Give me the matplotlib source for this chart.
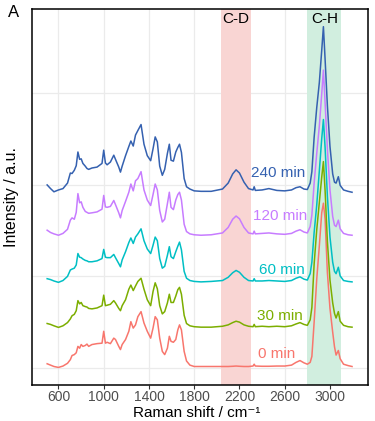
import numpy as np
import matplotlib.pyplot as plt

plt.rcParams['font.family'] = ['Liberation Sans', 'DejaVu Sans']

# Raman shift grid (cm-1)
shift = [500, 530, 560, 600, 640, 680, 705, 720, 740, 757, 772, 787, 801, 816, 837, 852, 867,
         896, 941, 985, 1000, 1015, 1030, 1059, 1089, 1104, 1133, 1148, 1163, 1193, 1222, 1240,
         1261, 1281, 1302, 1330, 1356, 1385, 1415, 1436, 1455, 1474, 1495, 1518, 1539, 1563,
         1580, 1595, 1616, 1637, 1655, 1670, 1687, 1711, 1732, 1762, 1800, 1860,
         1950, 2050, 2100, 2140, 2170, 2200, 2240, 2280, 2320, 2330, 2340, 2400, 2460, 2530,
         2600, 2660, 2700, 2735, 2770, 2800, 2825, 2840, 2860, 2883, 2906, 2927, 2942, 2957,
         2977, 3000, 3024, 3040, 3054, 3074, 3090, 3120, 3160, 3195]

int_0 = [0.09, 0.06, 0.03, 0.01, 0.04, 0.10, 0.18, 0.27, 0.29, 0.33, 0.47, 0.43, 0.51, 0.47, 0.49, 0.52, 0.47,
         0.51, 0.53, 0.54, 0.80, 0.54, 0.56, 0.53, 0.65, 0.62, 0.47, 0.40, 0.51, 0.62, 0.80, 1.01,
         0.87, 0.94, 1.12, 1.23, 0.98, 0.80, 0.65, 0.87, 1.12, 1.05, 0.65, 0.36, 0.29, 0.43,
         0.69, 0.58, 0.56, 0.62, 0.83, 0.94, 0.83, 0.36, 0.15, 0.06, 0.03, 0.03,
         0.03, 0.03, 0.03, 0.035, 0.04, 0.035, 0.03, 0.03, 0.04, 0.08, 0.04, 0.035, 0.035, 0.04,
         0.04, 0.06, 0.12, 0.16, 0.11, 0.08, 0.12, 0.25, 1.00, 1.94, 2.67, 3.39, 3.60, 3.25,
         2.09, 1.30, 0.78, 0.46, 0.28, 0.38, 0.20, 0.08, 0.05, 0.03]

int_30 = [0.10, 0.08, 0.05, 0.015, 0.05, 0.12, 0.20, 0.27, 0.30, 0.38, 0.60, 0.53, 0.56, 0.49, 0.47, 0.46, 0.43,
          0.42, 0.44, 0.49, 0.72, 0.49, 0.50, 0.52, 0.60, 0.55, 0.43, 0.38, 0.49, 0.62, 0.85, 0.94,
          0.82, 0.92, 1.02, 1.09, 0.85, 0.62, 0.49, 0.80, 0.99, 0.86, 0.49, 0.31, 0.36, 0.55,
          0.74, 0.56, 0.56, 0.70, 0.84, 0.89, 0.74, 0.28, 0.10, 0.05, 0.03, 0.02,
          0.02, 0.04, 0.07, 0.12, 0.15, 0.13, 0.07, 0.04, 0.03, 0.08, 0.03, 0.04, 0.03, 0.04,
          0.03, 0.05, 0.09, 0.12, 0.08, 0.06, 0.18, 0.45, 1.40, 2.15, 2.75, 3.30, 3.64, 3.00,
          1.90, 1.05, 0.55, 0.32, 0.22, 0.36, 0.15, 0.06, 0.03, 0.02]

int_60 = [0.09, 0.07, 0.04, 0.01, 0.05, 0.14, 0.28, 0.30, 0.32, 0.39, 0.64, 0.56, 0.55, 0.52, 0.49, 0.48, 0.46,
          0.46, 0.48, 0.53, 0.73, 0.56, 0.55, 0.55, 0.62, 0.55, 0.42, 0.35, 0.50, 0.68, 0.88, 0.98,
          0.86, 1.00, 1.07, 1.18, 0.92, 0.74, 0.64, 0.82, 1.00, 0.92, 0.53, 0.32, 0.36, 0.60,
          0.79, 0.57, 0.53, 0.68, 0.80, 0.89, 0.72, 0.25, 0.10, 0.05, 0.03, 0.02,
          0.03, 0.05, 0.12, 0.22, 0.27, 0.23, 0.12, 0.05, 0.04, 0.09, 0.04, 0.04, 0.05, 0.04,
          0.03, 0.05, 0.10, 0.13, 0.08, 0.06, 0.20, 0.45, 1.10, 1.70, 2.45, 3.15, 3.57, 2.95,
          1.90, 1.00, 0.45, 0.25, 0.20, 0.34, 0.15, 0.05, 0.03, 0.02]

int_120 = [0.12, 0.07, 0.04, 0.01, 0.05, 0.14, 0.34, 0.39, 0.36, 0.51, 0.92, 0.72, 0.74, 0.62, 0.53, 0.51, 0.49,
           0.50, 0.52, 0.58, 0.88, 0.63, 0.62, 0.64, 0.77, 0.68, 0.50, 0.39, 0.55, 0.75, 0.95, 1.13,
           0.98, 1.20, 1.25, 1.40, 1.00, 0.78, 0.66, 0.90, 1.13, 1.00, 0.55, 0.30, 0.36, 0.70,
           0.95, 0.62, 0.57, 0.78, 0.90, 0.95, 0.78, 0.25, 0.09, 0.04, 0.02, 0.01,
           0.02, 0.06, 0.18, 0.36, 0.43, 0.37, 0.18, 0.06, 0.04, 0.10, 0.04, 0.05, 0.06, 0.04,
           0.03, 0.05, 0.10, 0.13, 0.08, 0.06, 0.20, 0.45, 1.15, 1.80, 2.40, 3.10, 3.62, 2.90,
           1.90, 1.00, 0.42, 0.23, 0.20, 0.34, 0.15, 0.05, 0.02, 0.01]

int_240 = [0.16, 0.08, 0.01, 0.05, 0.08, 0.20, 0.42, 0.41, 0.48, 0.58, 0.88, 0.72, 0.73, 0.63, 0.57, 0.52, 0.50,
           0.53, 0.55, 0.63, 0.92, 0.64, 0.60, 0.66, 0.81, 0.72, 0.55, 0.44, 0.57, 0.80, 1.00, 1.12,
           1.01, 1.25, 1.35, 1.48, 1.05, 0.80, 0.69, 0.95, 1.21, 1.10, 0.57, 0.37, 0.50, 0.85,
           1.05, 0.70, 0.68, 0.88, 0.98, 1.05, 0.87, 0.30, 0.12, 0.07, 0.03, 0.02,
           0.02, 0.07, 0.20, 0.40, 0.49, 0.42, 0.22, 0.08, 0.05, 0.12, 0.04, 0.05, 0.08, 0.04,
           0.03, 0.05, 0.10, 0.12, 0.07, 0.06, 0.20, 0.45, 1.20, 1.85, 2.40, 3.10, 3.62, 2.90,
           1.90, 1.00, 0.40, 0.22, 0.20, 0.34, 0.15, 0.05, 0.02, 0.00]

times = ['0 min', '30 min', '60 min', '120 min', '240 min']
spectra = [int_0, int_30, int_60, int_120, int_240]
offsets = [0.0, 0.87, 1.86, 2.89, 3.84]
colors = ['#F8766D', '#7CAE00', '#00BFC4', '#C77CFF', '#3561B0']
label_x = [2524, 2560, 2577, 2560, 2545]
label_y = [0.30, 1.13, 2.15, 3.33, 4.26]

fig = plt.figure(figsize=(3.75, 4.21), dpi=100)
ax = fig.add_axes([0.085, 0.086, 0.896, 0.893])

ax.axvspan(2040, 2300, color='#F9D5D3', zorder=1, lw=0)
ax.axvspan(2800, 3100, color='#D1EEDF', zorder=1, lw=0)

for i in range(len(times)):
    y = np.array(spectra[i]) + offsets[i]
    ax.plot(shift, y, color=colors[i], lw=1.1, zorder=3)
    ax.text(label_x[i], label_y[i], times[i], color=colors[i], fontsize=11,
            ha='center', va='center', zorder=4)

ax.text(2170, 7.62, 'C-D', fontsize=11, ha='center', va='center')
ax.text(2950, 7.62, 'C-H', fontsize=11, ha='center', va='center')

ax.set_xlim(365, 3335)
ax.set_ylim(-0.37, 7.85)
ax.set_xticks([600, 1000, 1400, 1800, 2200, 2600, 3000])
ax.set_yticks([0, 2, 4, 6])
ax.set_yticklabels([])
ax.tick_params(axis='y', length=0)
ax.tick_params(axis='x', length=3, width=0.8, color='#333333', labelsize=10,
               labelcolor='#4D4D4D', pad=1)
ax.grid(True, color='#EBEBEB', lw=0.9, zorder=0)
ax.set_axisbelow(True)
for s in ax.spines.values():
    s.set_color('black')
    s.set_linewidth(1.1)

fig.text(0.525, 0.003, 'Raman shift / cm\u207b\u00b9', fontsize=11, ha='center', va='bottom')
ax.set_ylabel('Intensity / a.u.', fontsize=11.5, labelpad=6)
fig.text(0.02, 0.97, 'A', fontsize=12, ha='left', va='center')

fig.savefig('out.png', dpi=100)
